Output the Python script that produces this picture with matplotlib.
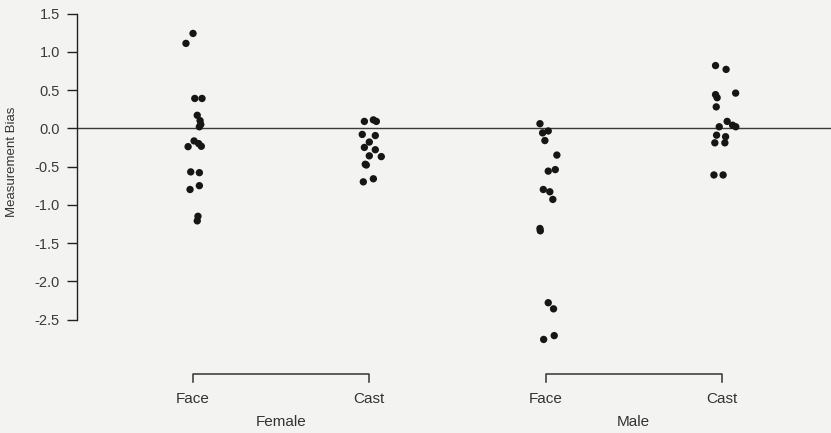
import numpy as np
import matplotlib.pyplot as plt

# data
groups = ['Female', 'Male']
conditions = ['Face', 'Cast']

female_face = [1.11, 1.24, 0.39, 0.39, 0.17, 0.10, 0.05, 0.02, -0.165, -0.24,
               -0.235, -0.20, -0.57, -0.58, -0.80, -0.75, -1.15, -1.21]
female_face_jit = [-0.040, 0.0, 0.010, 0.051, 0.024, 0.040, 0.044, 0.036, 0.006, -0.028,
                   0.047, 0.032, -0.013, 0.036, -0.017, 0.036, 0.028, 0.024]

female_cast = [0.09, 0.11, 0.09, -0.08, -0.095, -0.18, -0.25, -0.28, -0.36, -0.37,
               -0.47, -0.48, -0.70, -0.66]
female_cast_jit = [-0.028, 0.023, 0.040, -0.040, 0.034, 0.0, -0.028, 0.034, 0.0, 0.068,
                   -0.023, -0.017, -0.034, 0.023]

male_face = [0.06, -0.06, -0.035, -0.16, -0.35, -0.56, -0.54, -0.80, -0.83, -0.93,
             -1.31, -1.34, -2.28, -2.36, -2.76, -2.71]
male_face_jit = [-0.032, -0.017, 0.015, -0.004, 0.064, 0.015, 0.055, -0.013, 0.024, 0.041,
                 -0.032, -0.030, 0.015, 0.045, -0.011, 0.049]

male_cast = [0.82, 0.77, 0.44, 0.40, 0.46, 0.28, 0.09, 0.02, 0.04, 0.02,
             -0.09, -0.11, -0.19, -0.19, -0.61, -0.61]
male_cast_jit = [-0.036, 0.024, -0.036, -0.027, 0.078, -0.032, 0.030, -0.015, 0.061, 0.079,
                 -0.030, 0.021, -0.040, 0.017, -0.045, 0.007]

series = [(female_face, female_face_jit), (female_cast, female_cast_jit),
          (male_face, male_face_jit), (male_cast, male_cast_jit)]
yticks = [1.5, 1.0, 0.5, 0.0, -0.5, -1.0, -1.5, -2.0, -2.5]

plt.rcParams['font.family'] = ['Liberation Sans', 'DejaVu Sans']
bg = '#f3f3f1'
ink = '#161616'

fig = plt.figure(figsize=(8.31, 4.33), dpi=100, facecolor=bg)
ax = fig.add_axes([76.5 / 831, 0, 1 - 76.5 / 831, 1])
ax.set_facecolor(bg)

for i, (vals, jit) in enumerate(series):
    ax.scatter(i + np.array(jit), vals, s=28, color=ink, edgecolors='none', zorder=3)

ax.axhline(0, color='#3a3a3a', lw=1.0, zorder=2)

ax.set_xlim(-0.661, 3.619)
ax.set_ylim(-3.983, 1.677)

for s in ['top', 'right', 'bottom']:
    ax.spines[s].set_visible(False)
ax.spines['left'].set_bounds(-2.5, 1.5)
ax.spines['left'].set_color('#222222')
ax.spines['left'].set_linewidth(1.0)
ax.set_xticks([])
ax.set_yticks(yticks)
ax.set_yticklabels(['%.1f' % v for v in yticks])
ax.tick_params(axis='y', length=7, width=1.0, color='#222222', labelsize=10.5,
               labelcolor='#3a3a3a', pad=5)

ax.set_ylabel('Measurement Bias', fontsize=9.5, color='#333333')
ax.yaxis.set_label_coords(-0.0775, 0.626)

# group brackets under the plot
for g, name in enumerate(groups):
    x0, x1 = 2 * g, 2 * g + 1
    ax.plot([x0, x0, x1, x1], [-3.31, -3.218, -3.218, -3.31], color='#333333',
            lw=1.1, clip_on=False)
    for k, cond in enumerate(conditions):
        ax.text(x0 + k, -3.59, cond, ha='center', va='baseline', fontsize=11,
                color='#333333')
    ax.text((x0 + x1) / 2, -3.89, name, ha='center', va='baseline', fontsize=11,
            color='#333333')

fig.savefig('out.png', dpi=100, facecolor=bg)
